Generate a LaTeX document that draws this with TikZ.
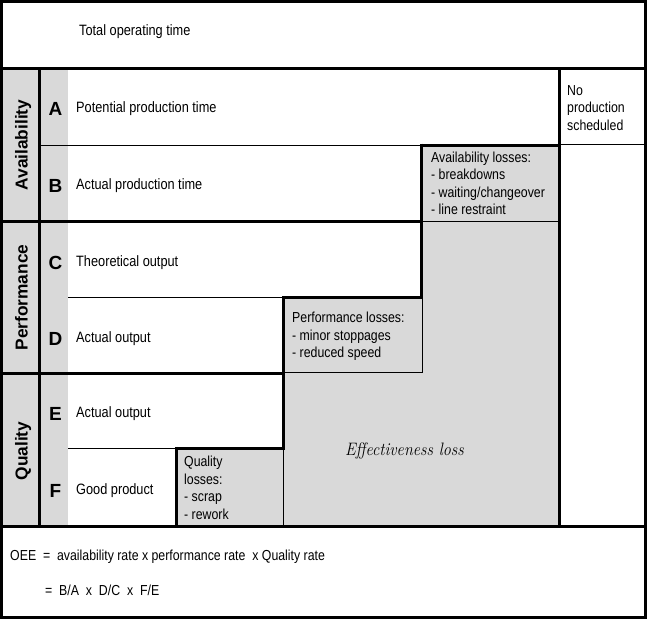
\documentclass[tikz,border=0pt]{standalone}
\usepackage{fontspec}
\usepackage{graphicx}
\setsansfont[FakeStretch=0.85]{Liberation Sans}
\newfontfamily\widesans{Liberation Sans}
\definecolor{lossgray}{gray}{0.85}

\begin{document}
\begin{tikzpicture}[x=1pt, y=-1pt,
    thk/.style={line width=3pt},
    thn/.style={line width=1pt},
    rowtxt/.style={anchor=base west, inner sep=0pt, font=\sffamily\fontsize{15}{18}\selectfont},
    letter/.style={anchor=base, inner sep=0pt, font=\widesans\bfseries\fontsize{19}{19}\selectfont},
    cat/.style={anchor=base, rotate=90, inner sep=0pt, font=\widesans\bfseries\fontsize{17.3}{17.3}\selectfont},
    losstxt/.style={anchor=north west, align=left, inner sep=0pt, font=\sffamily\fontsize{14.5}{17.5}\selectfont},
    oee/.style={anchor=base west, inner sep=0pt, font=\sffamily\fontsize{14.5}{17}\selectfont}]
    \useasboundingbox (0,0) rectangle (647,619);

    % Fonds gris
    \fill[lossgray] (0,68) rectangle (68,526);
    \fill[lossgray] (421,145) rectangle (560,526);
    \fill[lossgray] (283,298) rectangle (421,526);
    \fill[lossgray] (176,448) rectangle (283,526);

    % Lignes fines
    \draw[thn] (40,145) -- (421,145);
    \draw[thn] (560,144.5) -- (646,144.5);
    \draw[thn] (421,221.8) -- (560,221.8);
    \draw[thn] (68,297.7) -- (283,297.7);
    \draw[thn] (422,297.7) -- (422,372.5);
    \draw[thn] (283,372.5) -- (422,372.5);
    \draw[thn] (68,448.3) -- (176,448.3);
    \draw[thn] (283.3,448.3) -- (283.3,526);

    % Lignes epaisses
    \draw[thk] (1.5,1.5) rectangle (645.5,617.5);
    \draw[thk] (0,68.3) -- (647,68.3);
    \draw[thk] (0,526.7) -- (647,526.7);
    \draw[thk] (39.7,68.3) -- (39.7,526.7);
    \draw[thk] (559.7,68.3) -- (559.7,526.7);
    \draw[thk] (421,145) -- (559.7,145);
    \draw[thk] (0,221.7) -- (421,221.7);
    \draw[thk] (421,143.5) -- (421,297.7);
    \draw[thk] (283.3,297.7) -- (422.5,297.7);
    \draw[thk] (0,373.3) -- (283.3,373.3);
    \draw[thk] (283.3,296.2) -- (283.3,448.3);
    \draw[thk] (176.7,448.3) -- (284.8,448.3);
    \draw[thk] (176.7,446.8) -- (176.7,526.7);

    % Textes
    \node[rowtxt] (tot) at (79,35) {Total operating time};

    \node[cat] (avail) at (27.5,145) {Availability};
    \node[cat] (perf) at (27.5,297.5) {Performance};
    \node[cat] (qual) at (27.5,451) {Quality};

    \node[letter] (A) at (55.5,115) {A};
    \node[letter] (B) at (55.5,192.5) {B};
    \node[letter] (C) at (55.5,269) {C};
    \node[letter] (D) at (55.5,345) {D};
    \node[letter] (E) at (55.5,420) {E};
    \node[letter] (F) at (55.5,497) {F};

    \node[rowtxt] (tA) at (76,112) {Potential production time};
    \node[rowtxt] (tB) at (76,189.5) {Actual production time};
    \node[rowtxt] (tC) at (76,266) {Theoretical output};
    \node[rowtxt] (tD) at (76,342) {Actual output};
    \node[rowtxt] (tE) at (76,417) {Actual output};
    \node[rowtxt] (tF) at (76,494) {Good product};

    \node[losstxt] (noprod) at (567,85) {No\\production\\scheduled};
    \node[losstxt] (avl) at (431,151.5) {Availability losses:\\- breakdowns\\- waiting/changeover\\- line restraint};
    \node[losstxt] (pfl) at (292,312) {Performance losses:\\- minor stoppages\\- reduced speed};
    \node[losstxt] (qtl) at (184,456) {Quality\\losses:\\- scrap\\- rework};

    \node[anchor=base, inner sep=0pt, font=\rmfamily\itshape\fontsize{18}{20}\selectfont] (eff) at (404.5,455) {\scalebox{0.9}[1]{Effectiveness loss}};

    % Formule OEE
    \node[oee] (oee1) at (10,560) {OEE\ \ =\ \ availability rate x performance rate\ \ x Quality rate};
    \node[oee] (oee2) at (45,595) {=\ \ B/A\ \ x\ \ D/C\ \ x\ \ F/E};
\end{tikzpicture}
\end{document}
